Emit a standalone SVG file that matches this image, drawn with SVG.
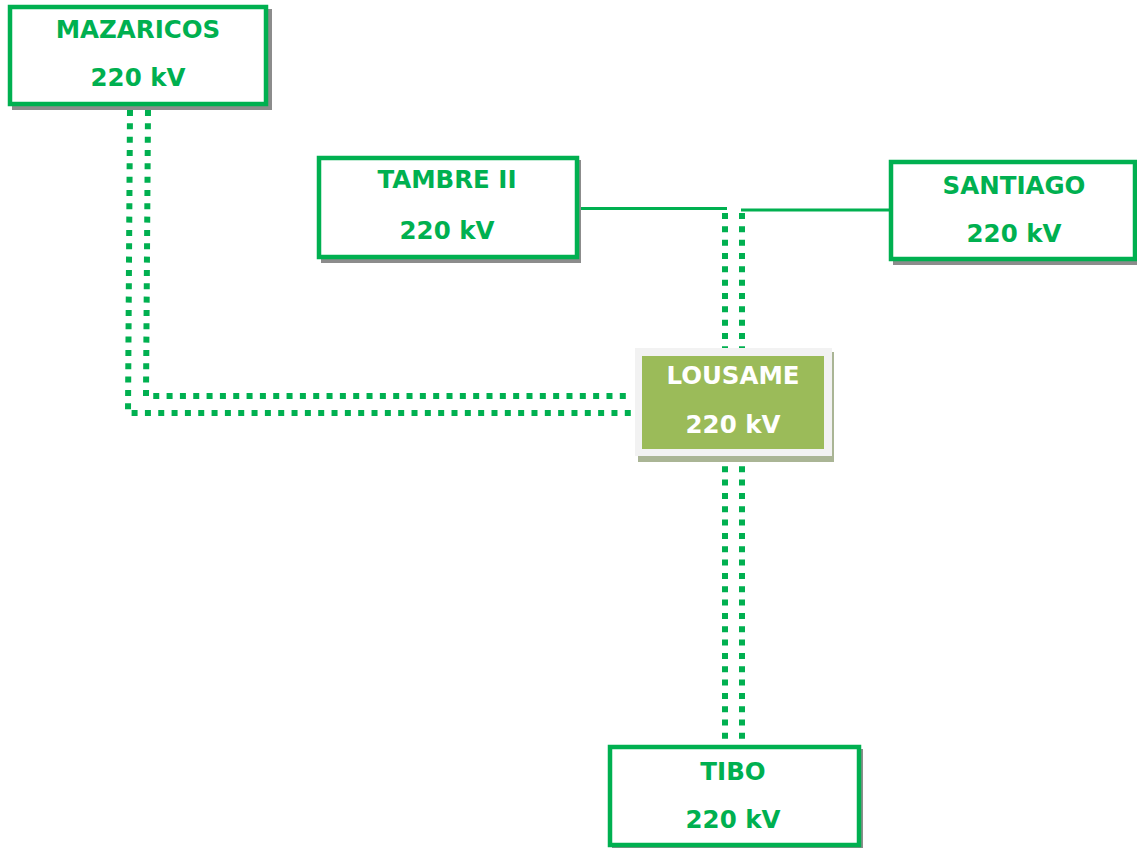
<svg xmlns="http://www.w3.org/2000/svg" width="1137" height="848" viewBox="0 0 1137 848">
<style>
.box{fill:#fff;stroke:#00B050;stroke-width:4.5}
.shadow{fill:#8c8c8c}
.t{font-family:"DejaVu Sans",Verdana,sans-serif;font-weight:bold;font-size:24.5px;fill:#00B050;text-anchor:middle}
.tw{fill:#fff}
.dot{fill:none;stroke:#00B050;stroke-width:6;stroke-dasharray:6 7.33}
.solid{fill:none;stroke:#00B050;stroke-width:3}
</style>
<rect width="1137" height="848" fill="#fff"/>
<g id="connectors">
<path class="dot" d="M130,110 L128,413 H633"/>
<path class="dot" d="M148,110 L146,396 H633"/>
<path class="dot" d="M725,213 V745"/>
<path class="dot" d="M742,213 V745"/>
<path class="solid" d="M578,208.5 H727"/>
<path class="solid" d="M741,210 H891"/>
</g>
<g id="mazaricos">
<rect class="shadow" x="12" y="9" width="260" height="101"/>
<rect class="box" x="10" y="7" width="256" height="97"/>
<text class="t" x="138" y="38">MAZARICOS</text>
<text class="t" x="138" y="86">220 kV</text>
</g>
<g id="tambre">
<rect class="shadow" x="321" y="160" width="260" height="103"/>
<rect class="box" x="319" y="158" width="258" height="99"/>
<text class="t" x="447" y="188">TAMBRE II</text>
<text class="t" x="447" y="239">220 kV</text>
</g>
<g id="santiago">
<rect class="shadow" x="893" y="164" width="246" height="101"/>
<rect class="box" x="891" y="162" width="244" height="97"/>
<text class="t" x="1014" y="194">SANTIAGO</text>
<text class="t" x="1014" y="242">220 kV</text>
</g>
<g id="lousame">
<rect x="638" y="352" width="196" height="110" fill="#aab595"/>
<rect x="635" y="348" width="197" height="108" fill="#f2f2f2"/>
<rect x="642" y="356" width="182" height="93" fill="#9BBB59"/>
<text class="t tw" x="733" y="384">LOUSAME</text>
<text class="t tw" x="733" y="433">220 kV</text>
</g>
<g id="tibo">
<rect class="shadow" x="612" y="749" width="251" height="102"/>
<rect class="box" x="610" y="747" width="249" height="98"/>
<text class="t" x="733" y="780">TIBO</text>
<text class="t" x="733" y="828">220 kV</text>
</g>
</svg>
